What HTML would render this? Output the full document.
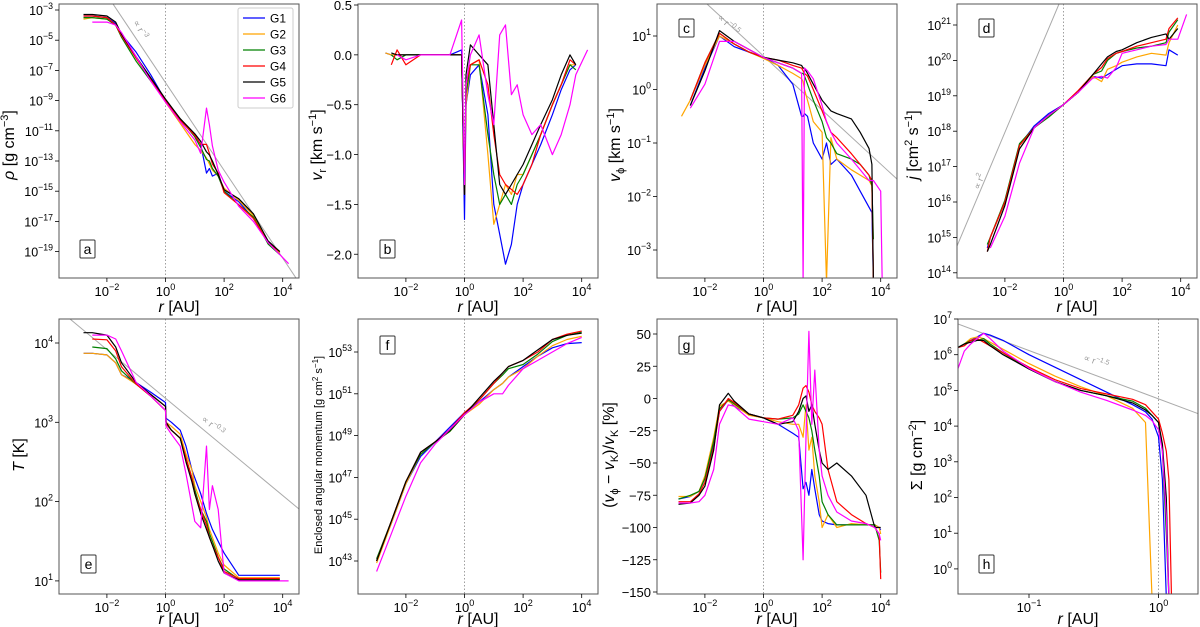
<!DOCTYPE html>
<html><head><meta charset="utf-8"><style>
body{margin:0;background:#fff;}
svg{display:block;font-family:"Liberation Sans","DejaVu Sans",sans-serif;}
</style></head><body>
<svg id="fig" width="1200" height="627" viewBox="0 0 1200 627" xmlns="http://www.w3.org/2000/svg"></svg>
<script>
const seriesNames=["G1","G2","G3","G4","G5","G6"];
const colors=["#0000ff","#ffa500","#008000","#ff0000","#000000","#ff00ff"];
// panel a: log rho
const aX=[-2.8,-2.5,-2,-1.7,-1.5,-1,-0.5,0,0.5,1,1.2,1.4,1.5,1.6,1.8,2,2.5,3,3.5,3.9,4.2];
const aG1=[-3.4,-3.4,-3.5,-3.9,-4.6,-5.8,-7.3,-9.0,-10.3,-11.3,-11.9,-13.8,-13.5,-14.0,-13.8,-15.0,-15.7,-16.8,-18.4,-19.1,null];
const aG2=[-3.6,-3.5,-3.6,-4.0,-4.7,-6.2,-7.6,-9.1,-10.5,-11.9,-12.3,-12.8,-13.2,-13.6,-14.0,-14.8,-15.6,-16.6,-18.4,-19.1,null];
const aG3=[-3.5,-3.5,-3.6,-4.0,-4.8,-6.4,-7.7,-9.0,-10.2,-11.4,-12.1,-12.9,-13.0,-13.5,-14.0,-15.0,-15.9,-16.7,-18.5,-19.2,null];
const aG4=[-3.4,-3.4,-3.5,-4.0,-4.7,-6.2,-7.6,-9.0,-10.3,-11.3,-11.9,-11.9,-12.5,-13.2,-13.8,-15.1,-15.9,-16.8,-18.4,-19.0,null];
const aG5=[-3.3,-3.3,-3.4,-3.8,-4.6,-6.1,-7.5,-8.9,-10.2,-11.2,-11.7,-12.4,-12.6,-13.0,-13.9,-14.9,-15.5,-16.5,-18.3,-19.0,null];
const aG6=[null,-3.8,-3.8,-4.0,-4.5,-6.1,-7.7,-9.1,-10.4,-11.6,-12.5,-9.5,-10.6,-12.0,-13.6,-14.4,-16.0,-17.0,-18.4,-19.2,-19.8];
// panel b: v_r
const bX=[-2.7,-2.5,-2.3,-2,-1.5,-1,-0.5,-0.1,0,0.05,0.2,0.5,0.8,1,1.2,1.4,1.6,1.8,2,2.3,2.6,3,3.3,3.6,3.8,4.2];
const bG1=[0.02,0.0,0.0,0.0,0.0,0.0,0.0,0.05,-1.65,-0.5,-0.2,-0.1,-0.6,-1.5,-1.8,-2.1,-1.9,-1.5,-1.3,-1.1,-0.9,-0.6,-0.35,-0.15,-0.1,null];
const bG2=[0.02,0.0,0.0,0.0,0.0,0.0,0.0,0.0,-1.4,-0.5,-0.1,-0.05,-1.0,-1.7,-1.5,-1.3,-1.4,-1.2,-1.2,-1.0,-0.8,-0.5,-0.3,-0.1,-0.1,null];
const bG3=[null,0.0,-0.05,0.0,0.0,0.0,0.0,0.0,-1.4,-0.4,-0.1,-0.1,-0.8,-1.2,-1.5,-1.4,-1.5,-1.3,-1.2,-1.0,-0.8,-0.5,-0.3,-0.1,-0.15,null];
const bG4=[null,-0.1,0.05,-0.1,0.0,0.0,0.0,0.0,-1.4,-0.3,-0.1,-0.05,-0.3,-0.8,-1.2,-1.3,-1.35,-1.4,-1.3,-1.1,-0.8,-0.5,-0.3,-0.05,-0.1,null];
const bG5=[null,0.02,0.0,0.0,0.0,0.0,0.0,0.0,-1.4,-0.2,0.1,0.0,-0.1,-0.7,-1.3,-1.4,-1.3,-1.2,-1.1,-0.9,-0.7,-0.45,-0.2,0.0,-0.1,null];
const bG6=[null,null,0.0,-0.05,0.0,0.0,0.0,0.35,-1.3,-0.3,0.0,0.2,-0.4,-0.7,0.2,0.3,-0.4,-0.3,-0.6,-0.8,-0.7,-1.0,-0.8,-0.5,-0.2,0.05];
// panel c: log v_phi
const cX=[-2.8,-2.5,-2,-1.5,-1,-0.5,0,0.5,1,1.3,1.35,1.4,1.5,1.7,2,2.15,2.3,2.5,3,3.3,3.6,3.7,3.75,4.0,4.05];
const cG1=[null,-0.3,0.4,1.0,0.8,0.7,0.6,0.45,0.1,-0.5,-0.5,-0.45,-0.5,-1.0,-1.3,-1.0,-1.4,-1.3,-1.6,-1.9,-2.2,-2.3,-3.6,null,null];
const cG2=[-0.5,-0.2,0.45,1.0,0.85,0.7,0.58,0.45,0.3,0.2,0.15,0.0,-0.2,-0.6,-0.8,-3.6,-0.9,-1.3,-1.5,-1.6,-1.7,-1.8,-3.6,null,null];
const cG3=[null,-0.2,0.5,1.05,0.85,0.7,0.6,0.5,0.4,0.3,0.3,0.25,0.1,-0.2,-0.6,-0.9,-1.0,-1.2,-1.3,-1.4,-1.6,-1.8,-2.8,null,null];
const cG4=[null,-0.2,0.5,1.05,0.85,0.7,0.6,0.55,0.45,0.4,0.35,0.3,0.25,0.0,-0.4,-0.6,-0.8,-0.9,-1.2,-1.4,-1.6,-1.7,-3.6,null,null];
const cG5=[null,-0.3,0.35,1.1,0.9,0.75,0.6,0.55,0.5,0.45,0.4,0.4,0.3,0.1,-0.2,-0.3,-0.4,-0.45,-0.55,-0.8,-1.1,-1.4,-3.6,null,null];
const cG6=[null,-0.35,0.1,0.9,0.9,0.75,0.6,0.5,0.4,0.3,-3.6,0.4,0.35,0.2,-0.3,-0.6,-0.8,-1.0,-1.3,-1.5,-1.7,-1.7,-1.7,-1.9,-3.6];
// panel d: log j
const dX=[-2.8,-2.6,-2.5,-2,-1.5,-1,-0.5,0,0.5,1,1.3,1.5,1.8,2,2.5,3,3.5,3.6,3.9,4.2];
const dG1=[null,14.7,15.0,16.0,17.6,18.15,18.5,18.75,19.1,19.55,19.5,19.6,19.75,19.85,19.9,19.9,19.85,20.3,20.15,null];
const dG2=[14.3,null,15.0,16.0,17.6,18.1,18.45,18.75,19.1,19.55,19.4,19.75,19.85,19.95,20.1,20.2,20.15,20.5,21.0,null];
const dG3=[null,14.8,15.0,16.05,17.65,18.1,18.4,18.75,19.1,19.6,19.7,20.0,20.2,20.25,20.35,20.4,20.5,20.8,21.15,null];
const dG4=[null,14.6,15.0,16.0,17.6,18.1,18.45,18.75,19.15,19.6,19.8,20.05,20.2,20.25,20.4,20.5,20.6,20.9,21.2,null];
const dG5=[null,14.6,14.8,15.9,17.5,18.1,18.45,18.75,19.1,19.6,19.9,20.1,20.25,20.3,20.5,20.65,20.75,20.6,20.9,null];
const dG6=[null,null,14.7,15.6,17.1,18.1,18.45,18.75,19.1,19.5,19.55,19.5,19.8,20.2,20.3,20.4,20.45,20.6,20.6,21.3];
// panel e: log T
const eX=[-2.8,-2.5,-2,-1.7,-1.5,-1,-0.5,0,0.02,0.2,0.5,0.7,0.9,1,1.2,1.4,1.5,1.6,1.8,2,2.5,3,3.9,4.2];
const eG1=[3.87,3.87,3.85,3.75,3.6,3.5,3.38,3.25,3.05,3.0,2.9,2.7,2.4,2.3,2.1,1.85,1.75,1.65,1.5,1.35,1.07,1.07,1.07,null];
const eG2=[3.87,3.87,3.85,3.75,3.6,3.48,3.35,3.2,3.0,2.95,2.85,2.6,2.4,2.2,2.0,1.8,1.65,1.55,1.35,1.2,1.04,1.04,1.04,null];
const eG3=[null,3.95,3.93,3.8,3.65,3.48,3.33,3.15,2.98,2.9,2.8,2.55,2.3,2.15,1.9,1.75,1.6,1.5,1.3,1.15,1.02,1.02,1.02,null];
const eG4=[null,4.05,4.04,3.9,3.7,3.48,3.33,3.15,2.98,2.9,2.8,2.55,2.3,2.1,1.9,1.7,1.55,1.45,1.3,1.12,1.03,1.03,1.03,null];
const eG5=[4.13,4.13,4.1,3.95,3.75,3.5,3.35,3.2,3.0,2.9,2.8,2.5,2.25,2.1,1.85,1.65,1.55,1.45,1.25,1.1,1.01,1.01,1.01,null];
const eG6=[null,4.1,4.1,4.05,3.9,3.5,3.33,3.15,2.95,2.85,2.7,2.35,1.95,1.75,1.67,2.7,1.9,2.2,1.9,1.1,1.0,1.0,1.0,1.0];
// panel f: log enclosed L
const fX=[-3,-2.5,-2,-1.5,-1,-0.5,0,0.5,1,1.3,1.5,2,2.5,3,3.5,4];
const fG1=[43.0,44.8,46.7,48.0,48.7,49.4,50.1,50.6,51.2,51.5,51.8,52.3,52.8,53.2,53.4,53.45];
const fG2=[42.9,44.8,46.7,48.1,48.7,49.2,50.0,50.5,51.2,51.5,51.8,52.2,52.8,53.3,53.6,53.75];
const fG3=[43.1,44.9,46.8,48.1,48.7,49.2,50.0,50.7,51.5,51.9,52.2,52.4,52.9,53.5,53.8,53.95];
const fG4=[43.0,44.9,46.8,48.2,48.7,49.3,50.1,50.7,51.5,52.0,52.3,52.6,53.0,53.6,53.85,54.0];
const fG5=[43.0,44.9,46.8,48.2,48.7,49.25,50.0,50.8,51.6,52.0,52.3,52.6,53.1,53.6,53.8,53.9];
const fG6=[42.5,44.3,46.1,47.7,48.6,49.3,50.0,50.6,51.0,51.0,51.4,52.2,52.6,53.0,53.4,53.7];
// panel g: (vphi - vK)/vK %
const gX=[-2.9,-2.5,-2.2,-2,-1.7,-1.5,-1.2,-1,-0.5,0,0.5,1,1.2,1.35,1.45,1.55,1.65,1.75,1.9,2,2.2,2.5,3,3.5,3.8,3.95,4.0];
const gG1=[-78,-76,-72,-62,-35,-10,-1,-6,-12,-15,-20,-27,-30,-70,-65,-75,-55,-70,-90,-95,-97,-98,-98,-98,-98,-100,-102];
const gG2=[-76,-76,-72,-60,-30,-6,-2,-5,-13,-15,-18,-20,-20,-30,-5,-40,-30,-60,-80,-100,-90,-100,-97,-98,-98,-100,-105];
const gG3=[-78,-75,-72,-62,-33,-8,-1,-4,-12,-15,-16,-15,-12,-5,-10,-15,-25,-40,-60,-80,-90,-98,-98,-98,-98,-110,-135];
const gG4=[-80,-80,-74,-65,-38,-10,0,-3,-12,-15,-16,-13,-5,8,10,5,-5,-10,-15,-20,-55,-80,-90,-97,-100,-105,-140];
const gG5=[-82,-81,-75,-68,-40,-5,4,-2,-12,-15,-20,-18,-10,0,2,-10,-5,-20,-40,-50,-55,-50,-60,-75,-100,-100,-100];
const gG6=[-81,-81,-80,-75,-55,-20,-5,-6,-16,-18,-20,-15,-25,-125,-30,52,-20,22,-40,-60,-75,-88,-95,-97,-100,-105,-110];
// panel h: log Sigma vs log r
const hX=[-1.55,-1.5,-1.45,-1.4,-1.35,-1.3,-1.2,-1,-0.8,-0.6,-0.4,-0.2,-0.1,-0.05,0,0.03,0.06,0.08,0.1];
const hG1=[6.2,6.3,6.4,6.5,6.6,6.55,6.4,6.0,5.65,5.3,4.95,4.6,4.4,4.2,3.7,2.5,-0.8,null,null];
const hG2=[6.2,6.3,6.45,6.5,6.45,6.35,6.15,5.75,5.4,5.1,4.85,4.5,4.1,-0.8,null,null,null,null,null];
const hG3=[6.2,6.3,6.4,6.4,6.45,6.3,6.05,5.6,5.25,5.0,4.85,4.7,4.5,4.3,4.1,3.3,1.0,-0.8,null];
const hG4=[6.2,6.25,6.4,6.45,6.35,6.25,6.05,5.65,5.3,5.05,4.9,4.75,4.6,4.4,4.2,3.8,3.3,2.5,-0.8];
const hG5=[6.2,6.3,6.35,6.4,6.4,6.25,6.0,5.6,5.25,5.0,4.85,4.65,4.45,4.3,4.1,3.5,2.0,-0.8,null];
const hG6=[5.6,6.1,6.3,6.45,6.6,6.45,6.1,5.62,5.25,4.95,4.72,4.45,4.3,4.15,3.9,3.3,1.5,-0.8,null];
// tick labels
const rTicks=[-2,0,2,4];
const hTicks=[-1,0];
const aTicks=[-3,-5,-7,-9,-11,-13,-15,-17,-19];
const bTicks=[0.5,0.0,-0.5,-1.0,-1.5,-2.0];
const cTicks=[1,0,-1,-2,-3];
const dTicks=[21,20,19,18,17,16,15,14];
const eTicks=[4,3,2,1];
const fTicks=[53,51,49,47,45,43];
const gTicks=[50,25,0,-25,-50,-75,-100,-125,-150];
const hyTicks=[7,6,5,4,3,2,1,0];

const NS="http://www.w3.org/2000/svg";
const svg=document.getElementById('fig');
function el(tag,attrs,parent){const e=document.createElementNS(NS,tag);for(const k in attrs)e.setAttribute(k,attrs[k]);(parent||svg).appendChild(e);return e;}
function logText(g,x,y,exp,anchor,size){
  const t=el('text',{x:x,y:y,'text-anchor':anchor,'font-size':size,fill:'#000'},g);
  t.appendChild(document.createTextNode('10'));
  const s=el('tspan',{dy:-6,'font-size':size*0.7},t);
  s.textContent=String(exp).replace('-','\u2212');
  return t;
}
const T=[4,278,319,594];
function makePanel(cfg){
  const g=el('g',{});
  
  
  const x0=cfg.x0,x1=cfg.x0+240,y0=cfg.y0,y1=cfg.y1;
  const X=cfg.xf,Y=cfg.yf;
  const cid='clip'+cfg.id;
  const cp=el('clipPath',{id:cid},g);el('rect',{x:x0,y:y0,width:x1-x0,height:y1-y0},cp);
  const dl=el('line',{x1:X(0),x2:X(0),y1:y0,y2:y1,stroke:'#888','stroke-width':0.8,'stroke-dasharray':'1.5,2'},g);
  
  
  if(cfg.ref){const r=el('line',{x1:cfg.ref[0],y1:cfg.ref[1],x2:cfg.ref[2],y2:cfg.ref[3],stroke:'#aaa','stroke-width':1,'clip-path':'url(#'+cid+')'},g);
    
    
    const rt=el('text',{x:cfg.refLab[0],y:cfg.refLab[1],'font-size':9,fill:'#999',transform:'rotate('+cfg.refLab[2]+' '+cfg.refLab[0]+' '+cfg.refLab[1]+')'},g);
    rt.appendChild(document.createTextNode('\u221d r'));
    const sp=el('tspan',{dy:-4,'font-size':7},rt);sp.textContent=cfg.refLab[3];
    
    
  }
  cfg.series.forEach((ys,i)=>{
    let d='',pen=false;
    ys.forEach((v,j)=>{if(v===null||v===undefined){pen=false;return;}
      d+=(pen?'L':'M')+X(cfg.xs[j]).toFixed(1)+','+Y(v).toFixed(1);pen=true;});
    const p=el('path',{d:d,fill:'none',stroke:colors[i],'stroke-width':1.2,'stroke-linejoin':'round','clip-path':'url(#'+cid+')'},g);
    
    
  });
  const fr=el('rect',{x:x0,y:y0,width:x1-x0,height:y1-y0,fill:'none',stroke:'#555','stroke-width':1},g);
  
  
  cfg.xticks.forEach(t=>{const x=X(t);
    el('line',{x1:x,x2:x,y1:y1,y2:y1+4,stroke:'#000','stroke-width':0.8},g);
    const lt=logText(g,x,y1+18,t,'middle',13);
    
    
  });
  cfg.yticks.forEach(t=>{const y=Y(t);
    el('line',{x1:x0-4,x2:x0,y1:y,y2:y,stroke:'#000','stroke-width':0.8},g);
    let lt;
    if(cfg.ylog){lt=logText(g,x0-6,y+5,t,'end',12.5);}
    else{lt=el('text',{x:x0-6,y:y+5,'text-anchor':'end','font-size':13},g);
      lt.textContent=(cfg.yfmt?t.toFixed(1):String(t)).replace('-','\u2212');}
    
    
  });
  const xt=el('text',{x:x0+120,y:y1+cfg.xtOff,'text-anchor':'middle','font-size':16},g);
  xt.innerHTML='<tspan font-style="italic">r</tspan> [AU]';
  
  
  const yt=el('text',{x:cfg.yl[0],y:cfg.yl[1],'text-anchor':'middle','font-size':cfg.ylSize||16,transform:'rotate(-90 '+cfg.yl[0]+' '+cfg.yl[1]+')'},g);
  yt.innerHTML=cfg.ylab;
  
  
  const lb=el('g',{},g);
  
  
  el('rect',{x:cfg.lb[0],y:cfg.lb[1],width:15,height:18,fill:'#fff',stroke:'#333','stroke-width':1,rx:1},lb);
  const lt=el('text',{x:cfg.lb[0]+7.5,y:cfg.lb[1]+14,'text-anchor':'middle','font-size':14},lb);lt.textContent=cfg.id;
  return g;
}
const xr=x0=>(lr=>x0+106.5+29.3*lr);
const ylin=(yr,vr,k)=>(v=>yr+(vr-v)*k);
makePanel({id:'a',x0:59,y0:T[0],y1:T[1],xtOff:34,xf:xr(59),yf:ylin(10,-3,15.1),xs:aX,series:[aG1,aG2,aG3,aG4,aG5,aG6],xticks:rTicks,yticks:aTicks,ylog:true,
  ref:[113,4,296,278],refLab:[133,22,62,'\u22123'],yl:[14,145],ylab:'<tspan font-style="italic">ρ</tspan> [g cm<tspan dy="-6" font-size="11">\u22123</tspan><tspan dy="6">]</tspan>',lb:[80,240]});
makePanel({id:'b',x0:358,y0:T[0],y1:T[1],xtOff:34,xf:xr(358),yf:ylin(5,0.5,99.7),xs:bX,series:[bG1,bG2,bG3,bG4,bG5,bG6],xticks:rTicks,yticks:bTicks,ylog:false,yfmt:true,
  yl:[322,145],ylab:'<tspan font-style="italic">v</tspan><tspan font-size="11" dy="4">r</tspan><tspan dy="-4"> [km s</tspan><tspan dy="-6" font-size="11">\u22121</tspan><tspan dy="6">]</tspan>',lb:[380,240]});
makePanel({id:'c',x0:657,y0:T[0],y1:T[1],xtOff:34,xf:xr(657),yf:ylin(36,1,53.5),xs:cX,series:[cG1,cG2,cG3,cG4,cG5,cG6],xticks:rTicks,yticks:cTicks,ylog:true,
  ref:[707,4,898,180],refLab:[717,18,43,'\u22120.5'],yl:[620,145],ylab:'<tspan font-style="italic">v</tspan><tspan font-size="11" dy="4">ϕ</tspan><tspan dy="-4"> [km s</tspan><tspan dy="-6" font-size="11">\u22121</tspan><tspan dy="6">]</tspan>',lb:[679,19]});
makePanel({id:'d',x0:957,y0:T[0],y1:T[1],xtOff:34,xf:xr(957),yf:ylin(25,21,35.4),xs:dX,series:[dG1,dG2,dG3,dG4,dG5,dG6],xticks:rTicks,yticks:dTicks,ylog:true,
  ref:[957,246,1059,4],refLab:[979,190,-68,'2'],yl:[918,145],ylab:'<tspan font-style="italic">j</tspan> [cm<tspan dy="-6" font-size="11">2</tspan><tspan dy="6"> s</tspan><tspan dy="-6" font-size="11">\u22121</tspan><tspan dy="6">]</tspan>',lb:[979,19]});
makePanel({id:'e',x0:59,y0:T[2],y1:T[3],xtOff:30,xf:xr(59),yf:ylin(343,4,79.3),xs:eX,series:[eG1,eG2,eG3,eG4,eG5,eG6],xticks:rTicks,yticks:eTicks,ylog:true,
  ref:[70,319,299,509],refLab:[201,420,39,'\u22120.3'],yl:[24,455],ylab:'<tspan font-style="italic">T</tspan> [K]',lb:[81,555]});
makePanel({id:'f',x0:358,y0:T[2],y1:T[3],xtOff:30,xf:xr(358),yf:ylin(352,53,20.9),xs:fX,series:[fG1,fG2,fG3,fG4,fG5,fG6],xticks:rTicks,yticks:fTicks,ylog:true,
  yl:[322,455],ylSize:11,ylab:'Enclosed angular momentum [g cm<tspan dy="-4" font-size="8">2</tspan><tspan dy="4"> s</tspan><tspan dy="-4" font-size="8">\u22121</tspan><tspan dy="4">]</tspan>',lb:[380,336]});
makePanel({id:'g',x0:657,y0:T[2],y1:T[3],xtOff:30,xf:xr(657),yf:ylin(334,50,1.29),xs:gX,series:[gG1,gG2,gG3,gG4,gG5,gG6],xticks:rTicks,yticks:gTicks,ylog:false,
  yl:[614,455],ylab:'(<tspan font-style="italic">v</tspan><tspan font-size="11" dy="4">ϕ</tspan><tspan dy="-4"> \u2212 </tspan><tspan font-style="italic">v</tspan><tspan font-size="11" dy="4">K</tspan><tspan dy="-4">)/</tspan><tspan font-style="italic">v</tspan><tspan font-size="11" dy="4">K</tspan><tspan dy="-4"> [%]</tspan>',lb:[679,336]});
makePanel({id:'h',x0:958,y0:T[2],y1:T[3],xtOff:30,xf:(lr=>1158.5+129.5*lr),yf:ylin(319,7,35.7),xs:hX,series:[hG1,hG2,hG3,hG4,hG5,hG6],xticks:hTicks,yticks:hyTicks,ylog:true,
  ref:[958,324,1199,414],refLab:[1083,360,20,'\u22121.5'],yl:[922,455],ylab:'Σ [g cm<tspan dy="-6" font-size="11">\u22122</tspan><tspan dy="6">]</tspan>',lb:[979,555]});
const lg=el('g',{});


el('rect',{x:238,y:8,width:55,height:100,fill:'#fff',stroke:'#ccc','stroke-width':1,rx:2},lg);
seriesNames.forEach((n,i)=>{
  const it=el('g',{},lg);
  
  
  const y=18+i*16;
  el('line',{x1:243,x2:265,y1:y,y2:y,stroke:colors[i],'stroke-width':1.3},it);
  const t=el('text',{x:270,y:y+4.5,'font-size':12},it);t.textContent=n;
});
</script>
</body></html>
